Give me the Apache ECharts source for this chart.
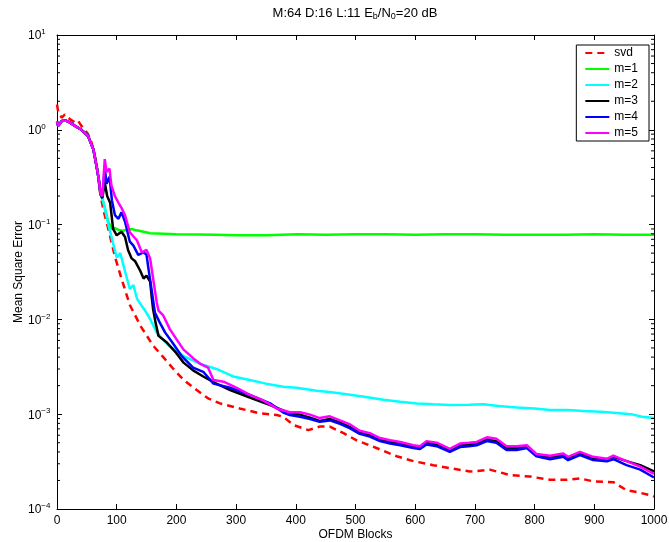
<!DOCTYPE html>
<html>
<head>
<meta charset="utf-8">
<script src="https://cdn.jsdelivr.net/npm/echarts@6/dist/echarts.min.js"></script>
<style>
    html, body { margin: 0; padding: 0; background: #fff; }
    #chart-mse { width: 669px; height: 542px; }
</style>
</head>
<body>
<div id="chart-mse"></div>
<script>
// [block, MSE] pairs
const svdMse = [[0,1.85],[2,1.55],[8,1.34],[13,1.45],[22,1.29],[30,1.2],[35,1.25],[40,1.12],[52,0.9],[58,0.73],[66,0.45],[72,0.22],[78,0.14],[86,0.09],[97,0.046],[108,0.027],[122,0.0142],[140,0.0085],[161,0.0053],[178,0.004],[195,0.003],[212,0.0023],[234,0.0018],[253,0.00147],[273,0.0013],[306,0.00115],[340,0.00102],[368,0.00098],[379,0.00094],[396,0.00077],[421,0.00068],[440,0.00074],[457,0.00074],[480,0.00063],[502,0.00053],[535,0.00044],[569,0.00036],[597,0.00032],[630,0.00029],[658,0.00027],[692,0.000248],[725,0.00026],[759,0.000228],[792,0.00022],[826,0.000203],[854,0.000203],[876,0.00021],[898,0.000196],[932,0.000192],[954,0.000158],[975,0.000149],[994,0.00014],[1000,0.000135]];

// all m curves share the first ~70 blocks
const commonStart = [[0,1.22],[2,1.1],[8,1.24],[15,1.25],[22,1.19],[30,1.1],[41,1.0],[52,0.86],[61,0.62],[66,0.42],[70,0.3],[73,0.21]];

const m1Tail = [[78,0.17],[86,0.106],[92,0.09],[97,0.092],[103,0.088],[110,0.086],[117,0.088],[125,0.09],[133,0.087],[145,0.084],[156,0.081],[200,0.079],[267,0.078],[300,0.077],[350,0.077],[403,0.079],[450,0.078],[500,0.079],[550,0.079],[600,0.078],[650,0.079],[700,0.079],[750,0.078],[800,0.078],[850,0.078],[900,0.079],[950,0.078],[1000,0.078]];

const m2Tail = [[78,0.17],[86,0.1],[95,0.06],[100,0.045],[106,0.05],[114,0.032],[122,0.021],[128,0.023],[134,0.0165],[140,0.0145],[147,0.0125],[156,0.0101],[167,0.0073],[178,0.0061],[189,0.0052],[212,0.0041],[240,0.0034],[267,0.003],[295,0.0025],[323,0.0023],[350,0.0021],[379,0.00195],[401,0.0019],[435,0.00177],[460,0.0017],[491,0.0016],[520,0.00151],[547,0.00142],[575,0.00135],[603,0.0013],[630,0.00127],[658,0.00125],[690,0.00126],[714,0.00127],[740,0.00122],[770,0.00118],[800,0.00115],[826,0.00111],[855,0.00111],[882,0.00108],[910,0.00106],[938,0.00103],[965,0.00099],[980,0.00094],[1000,0.00091]];

const m3Tail = [[76,0.19],[80,0.28],[84,0.2],[89,0.17],[94,0.09],[100,0.077],[108,0.084],[114,0.074],[119,0.054],[125,0.044],[131,0.041],[139,0.033],[145,0.027],[150,0.029],[156,0.025],[159,0.0165],[161,0.0128],[165,0.0093],[170,0.0067],[184,0.0057],[200,0.0044],[212,0.0035],[228,0.0029],[245,0.0025],[267,0.0021],[290,0.0018],[323,0.0015],[357,0.00125],[390,0.00102],[407,0.00099],[424,0.00092],[440,0.00085],[457,0.00089],[474,0.00082],[491,0.00073],[507,0.00064],[524,0.0006],[541,0.00054],[558,0.00051],[575,0.00049],[597,0.00046],[608,0.00045],[619,0.0005],[636,0.00048],[658,0.00042],[675,0.00047],[690,0.00048],[703,0.00049],[720,0.00054],[736,0.00052],[753,0.00044],[770,0.00044],[787,0.00046],[803,0.00037],[826,0.00035],[848,0.00037],[856,0.000345],[876,0.00039],[898,0.000345],[921,0.000335],[932,0.000355],[954,0.00032],[977,0.00029],[1000,0.00025]];

const m4Tail = [[76,0.2],[80,0.4],[83,0.27],[88,0.32],[92,0.18],[97,0.126],[103,0.115],[108,0.135],[114,0.107],[122,0.066],[128,0.06],[136,0.048],[145,0.051],[150,0.048],[153,0.035],[159,0.0195],[164,0.0118],[172,0.0093],[181,0.0073],[195,0.0055],[209,0.0041],[228,0.0031],[245,0.0028],[262,0.0021],[290,0.0019],[323,0.0016],[357,0.0013],[379,0.00104],[390,0.00098],[407,0.00094],[424,0.00089],[440,0.00083],[457,0.00086],[474,0.00079],[491,0.00071],[507,0.00062],[524,0.00058],[541,0.00052],[558,0.00049],[575,0.00047],[597,0.00044],[608,0.00043],[619,0.00048],[636,0.00046],[658,0.0004],[675,0.00045],[690,0.00046],[703,0.00047],[720,0.00052],[736,0.0005],[753,0.00042],[770,0.00042],[787,0.00044],[803,0.00036],[826,0.000335],[848,0.000355],[856,0.000328],[876,0.00037],[898,0.000328],[921,0.000318],[932,0.000335],[954,0.00029],[977,0.00026],[1000,0.000215]];

const m5Tail = [[76,0.2],[80,0.49],[83,0.36],[88,0.39],[91,0.26],[97,0.2],[103,0.17],[108,0.15],[114,0.125],[122,0.083],[134,0.068],[142,0.051],[150,0.054],[156,0.044],[161,0.027],[167,0.0152],[170,0.0124],[178,0.011],[189,0.0079],[200,0.0062],[212,0.0048],[228,0.0039],[240,0.0034],[253,0.0031],[262,0.0023],[279,0.0022],[301,0.0019],[323,0.0016],[345,0.0014],[368,0.00115],[390,0.00105],[407,0.00105],[424,0.00099],[440,0.00091],[457,0.00095],[474,0.00086],[491,0.00078],[507,0.00067],[524,0.00063],[541,0.00056],[558,0.00053],[575,0.00051],[597,0.00047],[608,0.00046],[619,0.00052],[636,0.0005],[658,0.00043],[675,0.00049],[690,0.0005],[703,0.00051],[720,0.00057],[736,0.00055],[753,0.00046],[770,0.00046],[787,0.00047],[803,0.00038],[826,0.000365],[848,0.000385],[856,0.000355],[876,0.0004],[898,0.000355],[921,0.000338],[932,0.000365],[954,0.00032],[977,0.00028],[1000,0.000235]];

const seriesNames = ["svd", "m=1", "m=2", "m=3", "m=4", "m=5"];
const seriesColors = ["#ff0000", "#00ff00", "#00ffff", "#000000", "#0000ff", "#ff00ff"];
const xTicks = [0, 1000, 100]; // min, max, step

// minor ticks of the log axis: 2..9 x 10^k
const minorTickValues = [
    0.0002, 0.0003, 0.0004, 0.0005, 0.0006, 0.0007, 0.0008, 0.0009,
    0.002, 0.003, 0.004, 0.005, 0.006, 0.007, 0.008, 0.009,
    0.02, 0.03, 0.04, 0.05, 0.06, 0.07, 0.08, 0.09,
    0.2, 0.3, 0.4, 0.5, 0.6, 0.7, 0.8, 0.9,
    2, 3, 4, 5, 6, 7, 8, 9
];

const fontFamily = "'Liberation Sans', Arial, Helvetica, sans-serif";
const black = "#000";

function lineSeries(index, data) {
    return {
        name: seriesNames[index],
        type: "line",
        data: data,
        symbol: "none",
        showSymbol: false,
        color: seriesColors[index],
        lineStyle: {
            width: 2.5,
            type: index === 0 ? [7, 5] : "solid",
            color: seriesColors[index]
        },
        z: 3 + index
    };
}

const chartMse = echarts.init(document.getElementById("chart-mse"));

const yLabelRich = {
    b: { fontSize: 12, lineHeight: 14, color: black, fontFamily: fontFamily, verticalAlign: "bottom" },
    s: { fontSize: 8, lineHeight: 8, color: black, fontFamily: fontFamily, verticalAlign: "top", padding: [0, 0, 8, 0] }
};

function expLabel(value) {
    const e = Math.round(Math.log10(value));
    return "{b|10}{s|" + (e < 0 ? "\u2212" + (-e) : e) + "}";
}

const tickStyle = { inside: true, length: 5, lineStyle: { color: black, width: 1 } };
const axisLineStyle = { show: true, onZero: false, lineStyle: { color: black, width: 1 } };

chartMse.setOption({
    animation: false,
    backgroundColor: "#fff",
    textStyle: { fontFamily: fontFamily },
    grid: { left: 57, right: 15, top: 35, bottom: 33, containLabel: false, outerBoundsMode: "none" },
    graphic: [{
        type: "text",
        x: 355,
        y: 14,
        style: {
            text: "{n|M:64 D:16 L:11 E}{u|b}{n|/N}{u|0}{n|=20 dB}",
            align: "center",
            verticalAlign: "middle",
            rich: {
                n: { fontSize: 13, lineHeight: 14, fill: black, fontFamily: fontFamily, verticalAlign: "top" },
                u: { fontSize: 9, lineHeight: 9, fill: black, fontFamily: fontFamily, verticalAlign: "bottom", padding: [9, 0, 0, 0] }
            }
        }
    }],
    legend: {
        orient: "vertical",
        right: 20,
        top: 45,
        data: seriesNames,
        itemWidth: 24,
        itemHeight: 12,
        itemGap: 4,
        padding: [2, 11, 2, 8],
        borderColor: black,
        borderWidth: 1,
        borderRadius: 0,
        backgroundColor: "#fff",
        itemStyle: { color: "rgba(0,0,0,0)", borderWidth: 0, opacity: 0 },
        textStyle: { fontSize: 12, color: black, fontFamily: fontFamily }
    },
    xAxis: [
        {
            type: "value",
            min: xTicks[0],
            max: xTicks[1],
            interval: xTicks[2],
            name: "OFDM Blocks",
            nameLocation: "middle",
            nameGap: 20,
            nameMoveOverlap: false,
            nameTextStyle: { fontSize: 12, color: black, fontFamily: fontFamily },
            axisLine: axisLineStyle,
            axisTick: tickStyle,
            axisLabel: { fontSize: 12, color: black, margin: 6, fontFamily: fontFamily, formatter: v => String(v) },
            splitLine: { show: false }
        },
        {
            type: "value",
            position: "top",
            min: xTicks[0],
            max: xTicks[1],
            interval: xTicks[2],
            axisLine: axisLineStyle,
            axisTick: tickStyle,
            axisLabel: { show: false },
            splitLine: { show: false }
        }
    ],
    yAxis: [
        {
            type: "log",
            logBase: 10,
            min: 1e-4,
            max: 10,
            name: "Mean Square Error",
            nameLocation: "middle",
            nameGap: 32,
            nameMoveOverlap: false,
            nameTextStyle: { fontSize: 12, color: black, fontFamily: fontFamily },
            axisLine: axisLineStyle,
            axisTick: tickStyle,
            axisLabel: {
                margin: 29,
                align: "left",
                formatter: expLabel,
                rich: yLabelRich
            },
            splitLine: { show: false }
        },
        {
            type: "log",
            logBase: 10,
            position: "right",
            min: 1e-4,
            max: 10,
            axisLine: axisLineStyle,
            axisTick: tickStyle,
            axisLabel: { show: false },
            splitLine: { show: false }
        }
    ],
    series: [
        lineSeries(0, svdMse),
        lineSeries(1, commonStart.concat(m1Tail)),
        lineSeries(2, commonStart.concat(m2Tail)),
        lineSeries(3, commonStart.concat(m3Tail)),
        lineSeries(4, commonStart.concat(m4Tail)),
        lineSeries(5, commonStart.concat(m5Tail)),
        {
            type: "custom",
            silent: true,
            z: 20,
            data: minorTickValues.map(v => [xTicks[0], v]),
            renderItem: (params, api) => {
                const left = api.coord([xTicks[0], api.value(1)]);
                const right = api.coord([xTicks[1], api.value(1)]);
                return {
                    type: "group",
                    children: [
                        { type: "line", shape: { x1: left[0], y1: left[1], x2: left[0] + 3, y2: left[1] }, style: { stroke: black, lineWidth: 1 } },
                        { type: "line", shape: { x1: right[0] - 3, y1: right[1], x2: right[0], y2: right[1] }, style: { stroke: black, lineWidth: 1 } }
                    ]
                };
            }
        }
    ]
});
</script>
</body>
</html>
